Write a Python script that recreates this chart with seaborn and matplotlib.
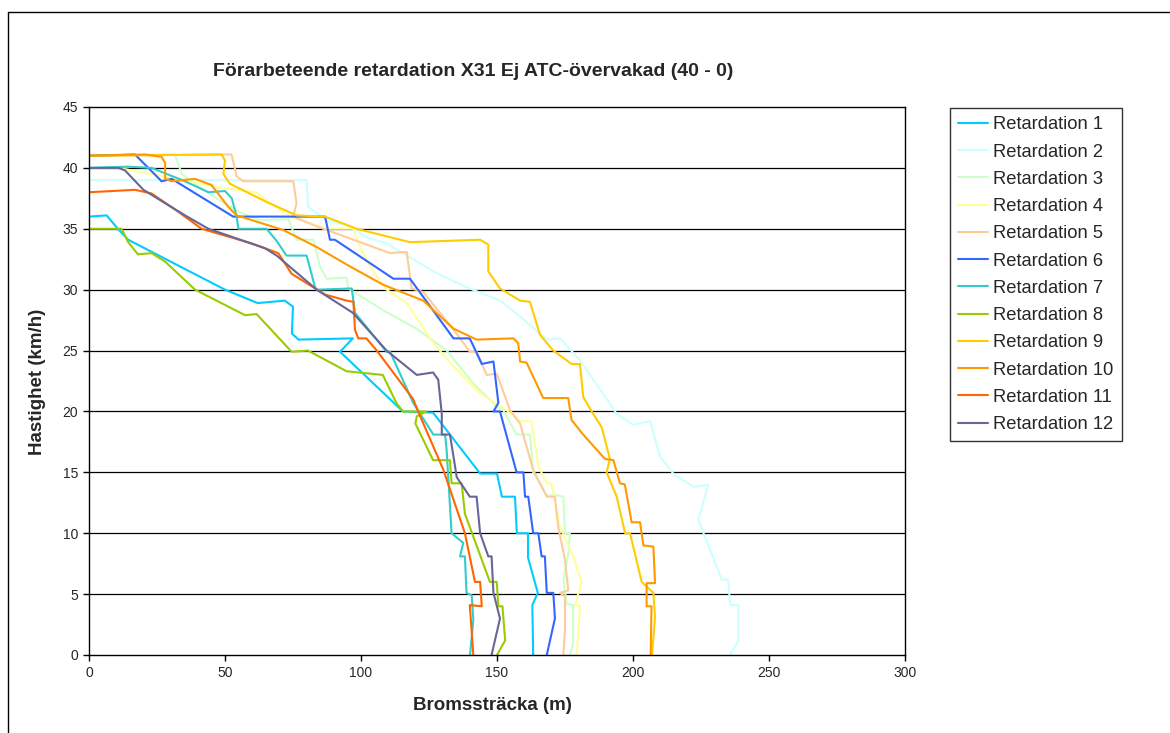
import numpy as np
import pandas as pd
import matplotlib
matplotlib.use("Agg")
import matplotlib.pyplot as plt
from matplotlib.lines import Line2D
import seaborn as sns

# distance (m) / speed (km/h), one pair of lists per run
x1 = [0, 6.5, 10.6, 14.4, 50, 62, 72, 75, 74.6, 77, 97, 92.3, 115.4, 126.5, 143.8, 150, 151.8, 156.6, 157.3, 161.4, 161.4, 165, 163, 163.3]
y1 = [36, 36.1, 35, 34.1, 30, 28.9, 29.1, 28.6, 26.4, 25.9, 26, 24.9, 20, 19.9, 14.9, 14.9, 13, 13, 10, 10, 8, 5.1, 4.1, 0]

x2 = [0, 80, 80.6, 87.4, 96, 102, 109.4, 126.6, 138.8, 151.1, 158.5, 168.3, 173.2, 180.5, 187.9, 194, 200.1, 206.3, 209.9, 214.8, 222.2, 227.7, 224, 232.6, 235, 235.7, 238.7, 238.7, 235.7]
y2 = [39, 39, 36.8, 35.7, 35.2, 34.3, 33.8, 31.5, 30.2, 29.1, 27.8, 25.9, 26, 24.2, 21.8, 19.8, 18.9, 19.2, 16.3, 14.9, 13.8, 14, 11.1, 6.2, 6.2, 4.1, 4.1, 1.2, 0]

x3 = [0, 28, 31.6, 34.1, 39, 47.5, 56.1, 62.9, 73.3, 76.3, 82.5, 84.9, 87.4, 94.7, 95.3, 108.2, 120.4, 131.5, 141.3, 149.9, 152.3, 157.2, 162.1, 163.3, 168.3, 172.5, 174.4, 175, 176.8, 176.2, 174.4, 175.6, 178, 178, 176.8]
y3 = [41, 41.1, 41.1, 39.5, 38.7, 37.4, 36.3, 35.7, 35.8, 34.1, 34.1, 31.9, 30.9, 31, 30.1, 28.3, 26.8, 25, 22.3, 20.4, 20.1, 18.1, 18.1, 15, 13.1, 13.1, 13, 10, 10, 8.3, 6.2, 4.2, 4.1, 1, 0]

x4 = [0, 10.8, 32.8, 47.5, 61.6, 64.1, 73.9, 87.4, 97.2, 99.6, 103.3, 109.4, 116.8, 126.6, 134, 143.8, 153.5, 158.5, 162.7, 165.2, 168.3, 170, 173.2, 178, 181.1, 178.7, 180.5, 179.3]
y4 = [40, 40, 39.1, 38.4, 38, 37.5, 36, 35, 35, 33.5, 31.9, 30, 28.9, 25.6, 23.7, 21.5, 20.1, 19.2, 19.2, 15.5, 14.1, 14.1, 10.5, 8.1, 6, 4.1, 4, 0]

x5 = [0, 49.4, 52.4, 54.3, 56.7, 75.1, 76.3, 75.1, 83.7, 97.2, 110.7, 116.8, 118.6, 122.9, 135.1, 140, 142.5, 146.2, 149.9, 154.8, 158.5, 163.3, 168.3, 171.3, 172.5, 175, 176.2, 173.2, 175, 175, 174.4]
y5 = [41, 41.1, 41.1, 39.3, 38.9, 38.9, 37.1, 36, 35.2, 34.1, 33, 33.1, 30.1, 29.8, 26.4, 24.9, 24.9, 23, 23.1, 20.1, 19, 15.2, 13, 13, 10.5, 7.8, 5.3, 5.1, 4.8, 2.1, 0]

x6 = [0, 16.9, 26.7, 30.4, 53, 86.8, 88.6, 90.4, 111.9, 118, 134, 140, 144.4, 148.7, 150.5, 148.7, 151.1, 157.2, 159.7, 160.3, 161.5, 163.3, 165.2, 166.4, 167.6, 168.3, 170.7, 171.3, 168.3]
y6 = [41, 41.1, 38.9, 39.1, 36, 36, 34.1, 34.1, 30.9, 30.9, 26, 26, 23.9, 24.1, 20.7, 20, 20, 15, 15, 13, 13, 10, 10, 8.1, 8.1, 5.1, 5.1, 3, 0]

x7 = [0, 14.4, 23, 35.3, 43.9, 50, 52.5, 54.3, 54.9, 65.3, 69, 72.6, 80, 83.1, 83.7, 96.6, 97.8, 109.4, 110.7, 119.2, 126.6, 130.9, 131.5, 133.3, 137.6, 136.4, 138.2, 138.8, 140.7, 141.3, 140.1]
y7 = [40, 40.1, 40, 38.9, 38, 38.1, 37.5, 36, 35, 35, 34, 32.8, 32.8, 30.2, 30, 30.1, 28.1, 24.9, 24.9, 20.7, 18.1, 18.1, 16.8, 10, 9.2, 8.1, 8.1, 5.1, 4.9, 2.9, 0]

x8 = [0, 12, 14.4, 18, 23, 28, 39, 57.4, 61.6, 74.5, 80.5, 94.7, 108, 113, 115.4, 124, 120.5, 120, 126.5, 132.7, 133.3, 137, 138.2, 147.4, 149.9, 150.5, 152, 153, 150]
y8 = [35, 35, 33.9, 32.9, 33, 32.3, 30, 27.9, 28, 24.9, 25, 23.3, 23, 20.7, 20, 20, 19.6, 19, 16, 16, 14.1, 14.1, 11.6, 6, 6, 4, 4, 1.2, 0]

x9 = [0, 48.8, 50, 49.4, 51.8, 65.3, 76.3, 86.8, 98.4, 118, 143.8, 146.8, 146.8, 151.1, 158.5, 162.1, 165.8, 170.7, 177.4, 180.5, 181.7, 184.8, 188.5, 191.5, 190.3, 194, 197.1, 198.9, 203.2, 207.5, 208.1, 207]
y9 = [41, 41.1, 40.6, 39.5, 38.7, 37.2, 36.1, 36, 35, 33.9, 34.1, 33.7, 31.5, 30.1, 29.1, 29, 26.3, 25, 23.9, 23.9, 21.2, 20, 18.7, 16.1, 15, 13, 10, 10, 6, 5.1, 3.1, 0]

x10 = [0, 20.6, 26.7, 28, 28, 30.4, 39, 45, 51.2, 54.3, 71.4, 83.7, 96, 108.2, 122.9, 134, 142.5, 156, 157.8, 158.5, 160.9, 167, 176.2, 177.4, 181.7, 189.7, 192.8, 195.2, 197, 199.5, 202.6, 203.8, 207.5, 208.1, 205, 205, 206.8, 206.5]
y10 = [41, 41.1, 40.9, 40.4, 39.1, 38.9, 39.1, 38.6, 36.8, 36.1, 34.9, 33.5, 31.9, 30.4, 29.1, 26.8, 25.9, 26, 25.6, 24.1, 24, 21.1, 21.1, 19.3, 18.1, 16.1, 16, 14.1, 14, 10.9, 10.9, 9, 8.9, 5.9, 5.9, 4, 4, 0]

x11 = [0, 16.9, 23, 32.8, 41.4, 59.8, 69.6, 74.5, 86.8, 94.7, 97.2, 97.8, 99, 102, 105.8, 119.2, 121, 130.3, 138.2, 141.9, 143.8, 144.4, 140, 141.3]
y11 = [38, 38.2, 37.9, 36.4, 35, 33.8, 33, 31.3, 29.6, 29.1, 29, 26.7, 26, 26, 25, 21, 20, 15.2, 10, 6, 6, 4, 4.1, 0]

x12 = [0, 10.8, 13.2, 20, 35.3, 43.9, 64.7, 69, 83.7, 97, 109.4, 120.5, 126.5, 128.4, 129.7, 129.7, 132.7, 134, 135.2, 140, 142.5, 143.8, 146.8, 148, 148.7, 151.1, 148]
y12 = [40, 40, 39.8, 38.2, 36.1, 35, 33.4, 32.8, 30, 28.1, 25, 23, 23.2, 22.6, 19.8, 18.1, 18.1, 16.3, 14.6, 13, 13, 10, 8.1, 8.1, 5.1, 3, 0]

xs = [x1, x2, x3, x4, x5, x6, x7, x8, x9, x10, x11, x12]
ys = [y1, y2, y3, y4, y5, y6, y7, y8, y9, y10, y11, y12]
names = [f"Retardation {i}" for i in range(1, 13)]
colors = ["#00CCFF", "#CCFFFF", "#CCFFCC", "#FFFF99", "#FFCC99", "#3366FF",
          "#33CCCC", "#99CC00", "#FFCC00", "#FF9900", "#FF6600", "#666699"]

frames = []
for name, x, y in zip(names, xs, ys):
    frames.append(pd.DataFrame({"dist": x, "speed": y, "run": name}))
df = pd.concat(frames, ignore_index=True)

sns.set_style("white")
plt.rcParams["font.family"] = ["Liberation Sans", "DejaVu Sans"]

fig = plt.figure(figsize=(11.7, 7.33), dpi=100)
ax = fig.add_axes([89 / 1170, 1 - 655 / 733, (905 - 89) / 1170, (655 - 107) / 733])

sns.lineplot(data=df, x="dist", y="speed", hue="run", palette=colors, sort=False,
             estimator=None, units="run", linewidth=1.5, legend=False, ax=ax)

ax.set_xlim(0, 300)
ax.set_ylim(0, 45)
ax.set_xticks(np.arange(0, 301, 50))
ax.set_yticks(np.arange(0, 46, 5))
ax.tick_params(axis="both", direction="out", length=4, width=1, color="black",
               labelsize=10, bottom=True, left=True, pad=4)
for yv in range(5, 45, 5):
    ax.axhline(yv, color="black", linewidth=0.9, zorder=0)
for side in ax.spines.values():
    side.set_color("black")
    side.set_linewidth(1)
ax.set_xlabel("")
ax.set_ylabel("")

fig.text(473 / 1170, 1 - 72 / 733, "Förarbeteende retardation X31 Ej ATC-övervakad (40 - 0)",
         ha="center", va="center", fontsize=14, fontweight="bold")
fig.text(492 / 1170, 1 - 706 / 733, "Bromssträcka (m)", ha="center", va="center",
         fontsize=13.5, fontweight="bold")
fig.text(38 / 1170, 1 - 382 / 733, "Hastighet (km/h)", ha="center", va="center",
         rotation=90, fontsize=13.5, fontweight="bold")

handles = [Line2D([], [], color=c, linewidth=1.5) for c in colors]
leg = fig.legend(handles, names, loc="upper left", bbox_to_anchor=(950 / 1170, 1 - 108 / 733),
                 frameon=True, fancybox=False, fontsize=13.2, handlelength=1.6,
                 handletextpad=0.3, labelspacing=0.56, borderpad=0.45, borderaxespad=0)
leg.get_frame().set_edgecolor("black")
leg.get_frame().set_linewidth(1)

# outer chart frame (only left and top edges show)
fig.add_artist(Line2D([8 / 1170, 8 / 1170], [0, 1 - 12 / 733], color="black", linewidth=1,
                      transform=fig.transFigure))
fig.add_artist(Line2D([8 / 1170, 1], [1 - 12 / 733, 1 - 12 / 733], color="black", linewidth=1,
                      transform=fig.transFigure))

fig.savefig("out.png", dpi=100)
